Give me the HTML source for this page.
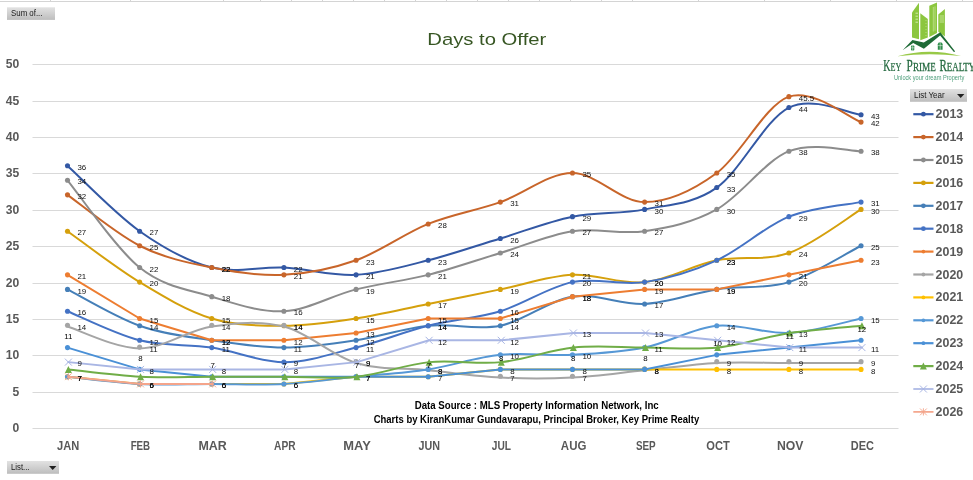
<!DOCTYPE html>
<html><head><meta charset="utf-8"><title>Days to Offer</title>
<style>
html,body{margin:0;padding:0;background:#fff;}
body{width:973px;height:480px;overflow:hidden;font-family:"Liberation Sans",sans-serif;}
svg{display:block;will-change:transform;}
svg text{font-family:"Liberation Sans",sans-serif;}
.ax{font-weight:bold;fill:#595959;font-size:12px;}
.dl{font-size:7.9px;fill:#111;}
.src{font-weight:bold;fill:#000;font-size:10.4px;}
.btn{font-size:8.6px;fill:#1a1a1a;}
</style></head><body>
<svg width="973" height="480" viewBox="0 0 973 480">
<defs>
<linearGradient id="bg" x1="0" y1="0" x2="0" y2="1"><stop offset="0" stop-color="#e2e2e2"/><stop offset="1" stop-color="#bdbdbd"/></linearGradient>
</defs>
<rect width="973" height="480" fill="#ffffff"/>

<path d="M0,1.5 H973" stroke="#d4d4d4" stroke-width="1" fill="none"/>
<path d="M50.5,0 V1.5 M130.5,0 V1.5 M223.5,0 V1.5 M260.5,0 V1.5 M291.5,0 V1.5 M322.5,0 V1.5 M353.5,0 V1.5 M384.5,0 V1.5 M415.5,0 V1.5 M446.5,0 V1.5 M477.5,0 V1.5 M508.5,0 V1.5 M539.5,0 V1.5 M570.5,0 V1.5 M601.5,0 V1.5 M632.5,0 V1.5 M698.5,0 V1.5 M764.5,0 V1.5 M830.5,0 V1.5 M896.5,0 V1.5 M962.5,0 V1.5" stroke="#d4d4d4" stroke-width="1" fill="none"/>
<path d="M32.5,428.50 H898.5" stroke="#d9d9d9" stroke-width="1" fill="none"/>
<path d="M32.5,392.50 H898.5" stroke="#d9d9d9" stroke-width="1" fill="none"/>
<path d="M32.5,355.50 H898.5" stroke="#d9d9d9" stroke-width="1" fill="none"/>
<path d="M32.5,319.50 H898.5" stroke="#d9d9d9" stroke-width="1" fill="none"/>
<path d="M32.5,283.50 H898.5" stroke="#d9d9d9" stroke-width="1" fill="none"/>
<path d="M32.5,246.50 H898.5" stroke="#d9d9d9" stroke-width="1" fill="none"/>
<path d="M32.5,210.50 H898.5" stroke="#d9d9d9" stroke-width="1" fill="none"/>
<path d="M32.5,173.50 H898.5" stroke="#d9d9d9" stroke-width="1" fill="none"/>
<path d="M32.5,137.50 H898.5" stroke="#d9d9d9" stroke-width="1" fill="none"/>
<path d="M32.5,101.50 H898.5" stroke="#d9d9d9" stroke-width="1" fill="none"/>
<path d="M32.5,64.50 H898.5" stroke="#d9d9d9" stroke-width="1" fill="none"/>
<text class="ax" x="19.20" y="432.40" text-anchor="end" textLength="6.75" lengthAdjust="spacingAndGlyphs">0</text>
<text class="ax" x="19.20" y="396.40" text-anchor="end" textLength="6.75" lengthAdjust="spacingAndGlyphs">5</text>
<text class="ax" x="19.20" y="359.40" text-anchor="end" textLength="13.50" lengthAdjust="spacingAndGlyphs">10</text>
<text class="ax" x="19.20" y="323.40" text-anchor="end" textLength="13.50" lengthAdjust="spacingAndGlyphs">15</text>
<text class="ax" x="19.20" y="287.40" text-anchor="end" textLength="13.50" lengthAdjust="spacingAndGlyphs">20</text>
<text class="ax" x="19.20" y="250.40" text-anchor="end" textLength="13.50" lengthAdjust="spacingAndGlyphs">25</text>
<text class="ax" x="19.20" y="214.40" text-anchor="end" textLength="13.50" lengthAdjust="spacingAndGlyphs">30</text>
<text class="ax" x="19.20" y="177.40" text-anchor="end" textLength="13.50" lengthAdjust="spacingAndGlyphs">35</text>
<text class="ax" x="19.20" y="141.40" text-anchor="end" textLength="13.50" lengthAdjust="spacingAndGlyphs">40</text>
<text class="ax" x="19.20" y="105.40" text-anchor="end" textLength="13.50" lengthAdjust="spacingAndGlyphs">45</text>
<text class="ax" x="19.20" y="68.40" text-anchor="end" textLength="13.50" lengthAdjust="spacingAndGlyphs">50</text>
<text class="ax" x="68.20" y="450" text-anchor="middle" textLength="22.20" lengthAdjust="spacingAndGlyphs">JAN</text>
<text class="ax" x="140.40" y="450" text-anchor="middle" textLength="19.50" lengthAdjust="spacingAndGlyphs">FEB</text>
<text class="ax" x="212.60" y="450" text-anchor="middle" textLength="28.40" lengthAdjust="spacingAndGlyphs">MAR</text>
<text class="ax" x="284.80" y="450" text-anchor="middle" textLength="21.50" lengthAdjust="spacingAndGlyphs">APR</text>
<text class="ax" x="357.00" y="450" text-anchor="middle" textLength="27.50" lengthAdjust="spacingAndGlyphs">MAY</text>
<text class="ax" x="429.20" y="450" text-anchor="middle" textLength="21.50" lengthAdjust="spacingAndGlyphs">JUN</text>
<text class="ax" x="501.40" y="450" text-anchor="middle" textLength="19.20" lengthAdjust="spacingAndGlyphs">JUL</text>
<text class="ax" x="573.60" y="450" text-anchor="middle" textLength="25.50" lengthAdjust="spacingAndGlyphs">AUG</text>
<text class="ax" x="645.80" y="450" text-anchor="middle" textLength="19.80" lengthAdjust="spacingAndGlyphs">SEP</text>
<text class="ax" x="718.00" y="450" text-anchor="middle" textLength="23.50" lengthAdjust="spacingAndGlyphs">OCT</text>
<text class="ax" x="790.20" y="450" text-anchor="middle" textLength="26.50" lengthAdjust="spacingAndGlyphs">NOV</text>
<text class="ax" x="862.40" y="450" text-anchor="middle" textLength="23.20" lengthAdjust="spacingAndGlyphs">DEC</text>
<text x="427.3" y="44.9" font-size="16.8" fill="#375623" textLength="119" lengthAdjust="spacingAndGlyphs">Days to Offer</text>
<path d="M67.50,165.74 C79.52,176.65 115.59,214.23 139.64,231.20 C163.69,248.17 187.73,261.51 211.78,267.57 C235.83,273.63 259.87,266.36 283.92,267.57 C307.97,268.78 332.01,276.06 356.06,274.85 C380.11,273.63 404.15,266.36 428.20,260.30 C452.25,254.24 476.29,245.75 500.34,238.48 C524.39,231.20 548.43,221.50 572.48,216.65 C596.53,211.80 620.57,214.23 644.62,209.38 C668.67,204.53 692.71,204.53 716.76,187.56 C740.81,170.59 764.85,119.67 788.90,107.54 C812.95,95.42 849.02,113.61 861.04,114.82" stroke="#3358A4" stroke-width="2.0" fill="none" stroke-linecap="round" stroke-linejoin="round"/>
<circle cx="67.50" cy="165.74" r="2.55" fill="#3358A4"/><circle cx="139.64" cy="231.20" r="2.55" fill="#3358A4"/><circle cx="211.78" cy="267.57" r="2.55" fill="#3358A4"/><circle cx="283.92" cy="267.57" r="2.55" fill="#3358A4"/><circle cx="356.06" cy="274.85" r="2.55" fill="#3358A4"/><circle cx="428.20" cy="260.30" r="2.55" fill="#3358A4"/><circle cx="500.34" cy="238.48" r="2.55" fill="#3358A4"/><circle cx="572.48" cy="216.65" r="2.55" fill="#3358A4"/><circle cx="644.62" cy="209.38" r="2.55" fill="#3358A4"/><circle cx="716.76" cy="187.56" r="2.55" fill="#3358A4"/><circle cx="788.90" cy="107.54" r="2.55" fill="#3358A4"/><circle cx="861.04" cy="114.82" r="2.55" fill="#3358A4"/>
<path d="M67.50,194.83 C79.52,203.32 115.59,233.63 139.64,245.75 C163.69,257.87 187.73,262.72 211.78,267.57 C235.83,272.42 259.87,276.06 283.92,274.85 C307.97,273.63 332.01,268.78 356.06,260.30 C380.11,251.81 404.15,233.63 428.20,223.93 C452.25,214.23 476.29,210.59 500.34,202.11 C524.39,193.62 548.43,173.01 572.48,173.01 C596.53,173.01 620.57,202.11 644.62,202.11 C668.67,202.11 692.71,190.59 716.76,173.01 C740.81,155.43 764.85,105.12 788.90,96.63 C812.95,88.15 849.02,117.85 861.04,122.09" stroke="#C8652A" stroke-width="2.0" fill="none" stroke-linecap="round" stroke-linejoin="round"/>
<circle cx="67.50" cy="194.83" r="2.55" fill="#C8652A"/><circle cx="139.64" cy="245.75" r="2.55" fill="#C8652A"/><circle cx="211.78" cy="267.57" r="2.55" fill="#C8652A"/><circle cx="283.92" cy="274.85" r="2.55" fill="#C8652A"/><circle cx="356.06" cy="260.30" r="2.55" fill="#C8652A"/><circle cx="428.20" cy="223.93" r="2.55" fill="#C8652A"/><circle cx="500.34" cy="202.11" r="2.55" fill="#C8652A"/><circle cx="572.48" cy="173.01" r="2.55" fill="#C8652A"/><circle cx="644.62" cy="202.11" r="2.55" fill="#C8652A"/><circle cx="716.76" cy="173.01" r="2.55" fill="#C8652A"/><circle cx="788.90" cy="96.63" r="2.55" fill="#C8652A"/><circle cx="861.04" cy="122.09" r="2.55" fill="#C8652A"/>
<path d="M67.50,180.28 C79.52,194.83 115.59,248.17 139.64,267.57 C163.69,286.97 187.73,289.39 211.78,296.67 C235.83,303.94 259.87,312.43 283.92,311.22 C307.97,310.00 332.01,295.46 356.06,289.39 C380.11,283.33 404.15,280.91 428.20,274.85 C452.25,268.78 476.29,260.30 500.34,253.02 C524.39,245.75 548.43,234.84 572.48,231.20 C596.53,227.57 620.57,234.84 644.62,231.20 C668.67,227.57 692.71,222.72 716.76,209.38 C740.81,196.04 764.85,160.89 788.90,151.19 C812.95,141.49 849.02,151.19 861.04,151.19" stroke="#8C8C8C" stroke-width="2.0" fill="none" stroke-linecap="round" stroke-linejoin="round"/>
<circle cx="67.50" cy="180.28" r="2.55" fill="#8C8C8C"/><circle cx="139.64" cy="267.57" r="2.55" fill="#8C8C8C"/><circle cx="211.78" cy="296.67" r="2.55" fill="#8C8C8C"/><circle cx="283.92" cy="311.22" r="2.55" fill="#8C8C8C"/><circle cx="356.06" cy="289.39" r="2.55" fill="#8C8C8C"/><circle cx="428.20" cy="274.85" r="2.55" fill="#8C8C8C"/><circle cx="500.34" cy="253.02" r="2.55" fill="#8C8C8C"/><circle cx="572.48" cy="231.20" r="2.55" fill="#8C8C8C"/><circle cx="644.62" cy="231.20" r="2.55" fill="#8C8C8C"/><circle cx="716.76" cy="209.38" r="2.55" fill="#8C8C8C"/><circle cx="788.90" cy="151.19" r="2.55" fill="#8C8C8C"/><circle cx="861.04" cy="151.19" r="2.55" fill="#8C8C8C"/>
<path d="M67.50,231.20 C79.52,239.69 115.59,267.57 139.64,282.12 C163.69,296.67 187.73,311.22 211.78,318.49 C235.83,325.76 259.87,325.76 283.92,325.76 C307.97,325.76 332.01,322.13 356.06,318.49 C380.11,314.85 404.15,308.79 428.20,303.94 C452.25,299.09 476.29,294.24 500.34,289.39 C524.39,284.54 548.43,276.06 572.48,274.85 C596.53,273.63 620.57,284.54 644.62,282.12 C668.67,279.70 692.71,265.15 716.76,260.30 C740.81,255.45 764.85,261.51 788.90,253.02 C812.95,244.54 849.02,216.65 861.04,209.38" stroke="#D5A00C" stroke-width="2.0" fill="none" stroke-linecap="round" stroke-linejoin="round"/>
<circle cx="67.50" cy="231.20" r="2.55" fill="#D5A00C"/><circle cx="139.64" cy="282.12" r="2.55" fill="#D5A00C"/><circle cx="211.78" cy="318.49" r="2.55" fill="#D5A00C"/><circle cx="283.92" cy="325.76" r="2.55" fill="#D5A00C"/><circle cx="356.06" cy="318.49" r="2.55" fill="#D5A00C"/><circle cx="428.20" cy="303.94" r="2.55" fill="#D5A00C"/><circle cx="500.34" cy="289.39" r="2.55" fill="#D5A00C"/><circle cx="572.48" cy="274.85" r="2.55" fill="#D5A00C"/><circle cx="644.62" cy="282.12" r="2.55" fill="#D5A00C"/><circle cx="716.76" cy="260.30" r="2.55" fill="#D5A00C"/><circle cx="788.90" cy="253.02" r="2.55" fill="#D5A00C"/><circle cx="861.04" cy="209.38" r="2.55" fill="#D5A00C"/>
<path d="M67.50,289.39 C79.52,295.46 115.59,317.28 139.64,325.76 C163.69,334.25 187.73,336.68 211.78,340.31 C235.83,343.95 259.87,347.59 283.92,347.59 C307.97,347.59 332.01,343.95 356.06,340.31 C380.11,336.68 404.15,328.19 428.20,325.76 C452.25,323.34 476.29,330.61 500.34,325.76 C524.39,320.91 548.43,300.31 572.48,296.67 C596.53,293.03 620.57,305.15 644.62,303.94 C668.67,302.73 692.71,293.03 716.76,289.39 C740.81,285.76 764.85,289.39 788.90,282.12 C812.95,274.85 849.02,251.81 861.04,245.75" stroke="#457FB8" stroke-width="2.0" fill="none" stroke-linecap="round" stroke-linejoin="round"/>
<circle cx="67.50" cy="289.39" r="2.55" fill="#457FB8"/><circle cx="139.64" cy="325.76" r="2.55" fill="#457FB8"/><circle cx="211.78" cy="340.31" r="2.55" fill="#457FB8"/><circle cx="283.92" cy="347.59" r="2.55" fill="#457FB8"/><circle cx="356.06" cy="340.31" r="2.55" fill="#457FB8"/><circle cx="428.20" cy="325.76" r="2.55" fill="#457FB8"/><circle cx="500.34" cy="325.76" r="2.55" fill="#457FB8"/><circle cx="572.48" cy="296.67" r="2.55" fill="#457FB8"/><circle cx="644.62" cy="303.94" r="2.55" fill="#457FB8"/><circle cx="716.76" cy="289.39" r="2.55" fill="#457FB8"/><circle cx="788.90" cy="282.12" r="2.55" fill="#457FB8"/><circle cx="861.04" cy="245.75" r="2.55" fill="#457FB8"/>
<path d="M67.50,311.22 C79.52,316.07 115.59,334.25 139.64,340.31 C163.69,346.37 187.73,343.95 211.78,347.59 C235.83,351.22 259.87,362.13 283.92,362.13 C307.97,362.13 332.01,353.65 356.06,347.59 C380.11,341.52 404.15,331.83 428.20,325.76 C452.25,319.70 476.29,318.49 500.34,311.22 C524.39,303.94 548.43,286.97 572.48,282.12 C596.53,277.27 620.57,285.76 644.62,282.12 C668.67,278.48 692.71,271.21 716.76,260.30 C740.81,249.39 764.85,226.35 788.90,216.65 C812.95,206.96 849.02,204.53 861.04,202.11" stroke="#4472C4" stroke-width="2.0" fill="none" stroke-linecap="round" stroke-linejoin="round"/>
<circle cx="67.50" cy="311.22" r="2.55" fill="#4472C4"/><circle cx="139.64" cy="340.31" r="2.55" fill="#4472C4"/><circle cx="211.78" cy="347.59" r="2.55" fill="#4472C4"/><circle cx="283.92" cy="362.13" r="2.55" fill="#4472C4"/><circle cx="356.06" cy="347.59" r="2.55" fill="#4472C4"/><circle cx="428.20" cy="325.76" r="2.55" fill="#4472C4"/><circle cx="500.34" cy="311.22" r="2.55" fill="#4472C4"/><circle cx="572.48" cy="282.12" r="2.55" fill="#4472C4"/><circle cx="644.62" cy="282.12" r="2.55" fill="#4472C4"/><circle cx="716.76" cy="260.30" r="2.55" fill="#4472C4"/><circle cx="788.90" cy="216.65" r="2.55" fill="#4472C4"/><circle cx="861.04" cy="202.11" r="2.55" fill="#4472C4"/>
<path d="M67.50,274.85 L139.64,318.49 L211.78,340.31 L283.92,340.31 L356.06,333.04 L428.20,318.49 L500.34,318.49 L572.48,296.67 L644.62,289.39 L716.76,289.39 L788.90,274.85 L861.04,260.30" stroke="#ED7D31" stroke-width="2.0" fill="none" stroke-linecap="round" stroke-linejoin="round"/>
<circle cx="67.50" cy="274.85" r="2.55" fill="#ED7D31"/><circle cx="139.64" cy="318.49" r="2.55" fill="#ED7D31"/><circle cx="211.78" cy="340.31" r="2.55" fill="#ED7D31"/><circle cx="283.92" cy="340.31" r="2.55" fill="#ED7D31"/><circle cx="356.06" cy="333.04" r="2.55" fill="#ED7D31"/><circle cx="428.20" cy="318.49" r="2.55" fill="#ED7D31"/><circle cx="500.34" cy="318.49" r="2.55" fill="#ED7D31"/><circle cx="572.48" cy="296.67" r="2.55" fill="#ED7D31"/><circle cx="644.62" cy="289.39" r="2.55" fill="#ED7D31"/><circle cx="716.76" cy="289.39" r="2.55" fill="#ED7D31"/><circle cx="788.90" cy="274.85" r="2.55" fill="#ED7D31"/><circle cx="861.04" cy="260.30" r="2.55" fill="#ED7D31"/>
<path d="M67.50,326.56 C79.52,330.20 115.59,348.39 139.64,348.39 C163.69,348.39 187.73,330.20 211.78,326.56 C235.83,322.93 259.87,320.50 283.92,326.56 C307.97,332.63 332.01,355.66 356.06,362.93 C380.11,370.21 404.15,367.78 428.20,370.21 C452.25,372.63 476.29,376.27 500.34,377.48 C524.39,378.69 548.43,378.69 572.48,377.48 C596.53,376.27 620.57,372.63 644.62,370.21 C668.67,367.78 692.71,364.15 716.76,362.93 C740.81,361.72 764.85,362.93 788.90,362.93 C812.95,362.93 849.02,362.93 861.04,362.93" stroke="#A5A5A5" stroke-width="2.0" fill="none" stroke-linecap="round" stroke-linejoin="round"/>
<circle cx="67.50" cy="325.26" r="2.55" fill="#A5A5A5"/><circle cx="139.64" cy="347.09" r="2.55" fill="#A5A5A5"/><circle cx="211.78" cy="325.26" r="2.55" fill="#A5A5A5"/><circle cx="283.92" cy="325.26" r="2.55" fill="#A5A5A5"/><circle cx="356.06" cy="361.63" r="2.55" fill="#A5A5A5"/><circle cx="428.20" cy="368.91" r="2.55" fill="#A5A5A5"/><circle cx="500.34" cy="376.18" r="2.55" fill="#A5A5A5"/><circle cx="572.48" cy="376.18" r="2.55" fill="#A5A5A5"/><circle cx="644.62" cy="368.91" r="2.55" fill="#A5A5A5"/><circle cx="716.76" cy="361.63" r="2.55" fill="#A5A5A5"/><circle cx="788.90" cy="361.63" r="2.55" fill="#A5A5A5"/><circle cx="861.04" cy="361.63" r="2.55" fill="#A5A5A5"/>
<path d="M67.50,376.68 L139.64,383.96 L211.78,383.96 L283.92,383.96 L356.06,376.68 L428.20,376.68 L500.34,369.41 L572.48,369.41 L644.62,369.41 L716.76,369.41 L788.90,369.41 L861.04,369.41" stroke="#FFC000" stroke-width="2.0" fill="none" stroke-linecap="round" stroke-linejoin="round"/>
<circle cx="67.50" cy="376.68" r="2.55" fill="#FFC000"/><circle cx="139.64" cy="383.96" r="2.55" fill="#FFC000"/><circle cx="211.78" cy="383.96" r="2.55" fill="#FFC000"/><circle cx="283.92" cy="383.96" r="2.55" fill="#FFC000"/><circle cx="356.06" cy="376.68" r="2.55" fill="#FFC000"/><circle cx="428.20" cy="376.68" r="2.55" fill="#FFC000"/><circle cx="500.34" cy="369.41" r="2.55" fill="#FFC000"/><circle cx="572.48" cy="369.41" r="2.55" fill="#FFC000"/><circle cx="644.62" cy="369.41" r="2.55" fill="#FFC000"/><circle cx="716.76" cy="369.41" r="2.55" fill="#FFC000"/><circle cx="788.90" cy="369.41" r="2.55" fill="#FFC000"/><circle cx="861.04" cy="369.41" r="2.55" fill="#FFC000"/>
<path d="M67.50,376.68 C79.52,377.89 115.59,382.74 139.64,383.96 C163.69,385.17 187.73,383.96 211.78,383.96 C235.83,383.96 259.87,385.17 283.92,383.96 C307.97,382.74 332.01,379.11 356.06,376.68 C380.11,374.26 404.15,373.05 428.20,369.41 C452.25,365.77 476.29,357.28 500.34,354.86 C524.39,352.44 548.43,356.07 572.48,354.86 C596.53,353.65 620.57,352.44 644.62,347.59 C668.67,342.74 692.71,328.19 716.76,325.76 C740.81,323.34 764.85,334.25 788.90,333.04 C812.95,331.83 849.02,320.91 861.04,318.49" stroke="#5698D6" stroke-width="2.0" fill="none" stroke-linecap="round" stroke-linejoin="round"/>
<circle cx="67.50" cy="376.68" r="2.55" fill="#5698D6"/><circle cx="139.64" cy="383.96" r="2.55" fill="#5698D6"/><circle cx="211.78" cy="383.96" r="2.55" fill="#5698D6"/><circle cx="283.92" cy="383.96" r="2.55" fill="#5698D6"/><circle cx="356.06" cy="376.68" r="2.55" fill="#5698D6"/><circle cx="428.20" cy="369.41" r="2.55" fill="#5698D6"/><circle cx="500.34" cy="354.86" r="2.55" fill="#5698D6"/><circle cx="572.48" cy="354.86" r="2.55" fill="#5698D6"/><circle cx="644.62" cy="347.59" r="2.55" fill="#5698D6"/><circle cx="716.76" cy="325.76" r="2.55" fill="#5698D6"/><circle cx="788.90" cy="333.04" r="2.55" fill="#5698D6"/><circle cx="861.04" cy="318.49" r="2.55" fill="#5698D6"/>
<path d="M67.50,347.59 L139.64,369.41 L211.78,376.68 L283.92,376.68 L356.06,376.68 L428.20,376.68 L500.34,369.41 L572.48,369.41 L644.62,369.41 L716.76,354.86 L788.90,347.59 L861.04,340.31" stroke="#4A90D6" stroke-width="2.0" fill="none" stroke-linecap="round" stroke-linejoin="round"/>
<circle cx="67.50" cy="347.59" r="2.55" fill="#4A90D6"/><circle cx="139.64" cy="369.41" r="2.55" fill="#4A90D6"/><circle cx="211.78" cy="376.68" r="2.55" fill="#4A90D6"/><circle cx="283.92" cy="376.68" r="2.55" fill="#4A90D6"/><circle cx="356.06" cy="376.68" r="2.55" fill="#4A90D6"/><circle cx="428.20" cy="376.68" r="2.55" fill="#4A90D6"/><circle cx="500.34" cy="369.41" r="2.55" fill="#4A90D6"/><circle cx="572.48" cy="369.41" r="2.55" fill="#4A90D6"/><circle cx="644.62" cy="369.41" r="2.55" fill="#4A90D6"/><circle cx="716.76" cy="354.86" r="2.55" fill="#4A90D6"/><circle cx="788.90" cy="347.59" r="2.55" fill="#4A90D6"/><circle cx="861.04" cy="340.31" r="2.55" fill="#4A90D6"/>
<path d="M68.40,369.41 C80.42,370.62 116.49,375.47 140.54,376.68 C164.59,377.89 188.63,376.68 212.68,376.68 C236.73,376.68 260.77,376.68 284.82,376.68 C308.87,376.68 332.91,379.11 356.96,376.68 C381.01,374.26 405.05,364.56 429.10,362.13 C453.15,359.71 477.19,364.56 501.24,362.13 C525.29,359.71 549.33,350.01 573.38,347.59 C597.43,345.16 621.47,347.59 645.52,347.59 C669.57,347.59 693.61,350.01 717.66,347.59 C741.71,345.16 765.75,336.68 789.80,333.04 C813.85,329.40 849.92,326.98 861.94,325.76" stroke="#70AD47" stroke-width="2.0" fill="none" stroke-linecap="round" stroke-linejoin="round"/>
<path d="M68.40,365.91 L71.90,372.91 L64.90,372.91 Z" fill="#70AD47"/><path d="M140.54,373.18 L144.04,380.18 L137.04,380.18 Z" fill="#70AD47"/><path d="M212.68,373.18 L216.18,380.18 L209.18,380.18 Z" fill="#70AD47"/><path d="M284.82,373.18 L288.32,380.18 L281.32,380.18 Z" fill="#70AD47"/><path d="M356.96,373.18 L360.46,380.18 L353.46,380.18 Z" fill="#70AD47"/><path d="M429.10,358.63 L432.60,365.63 L425.60,365.63 Z" fill="#70AD47"/><path d="M501.24,358.63 L504.74,365.63 L497.74,365.63 Z" fill="#70AD47"/><path d="M573.38,344.09 L576.88,351.09 L569.88,351.09 Z" fill="#70AD47"/><path d="M645.52,344.09 L649.02,351.09 L642.02,351.09 Z" fill="#70AD47"/><path d="M717.66,344.09 L721.16,351.09 L714.16,351.09 Z" fill="#70AD47"/><path d="M789.80,329.54 L793.30,336.54 L786.30,336.54 Z" fill="#70AD47"/><path d="M861.94,322.26 L865.44,329.26 L858.44,329.26 Z" fill="#70AD47"/>
<path d="M68.40,362.13 L140.54,369.41 L212.68,369.41 L284.82,369.41 L356.96,362.13 L429.10,340.31 L501.24,340.31 L573.38,333.04 L645.52,333.04 L717.66,340.31 L789.80,347.59 L861.94,347.59" stroke="#A9B6E4" stroke-width="2.0" fill="none" stroke-linecap="round" stroke-linejoin="round"/>
<path d="M64.90,358.63 L71.90,365.63 M64.90,365.63 L71.90,358.63" stroke="#A9B6E4" stroke-width="1.0" fill="none"/><path d="M137.04,365.91 L144.04,372.91 M137.04,372.91 L144.04,365.91" stroke="#A9B6E4" stroke-width="1.0" fill="none"/><path d="M209.18,365.91 L216.18,372.91 M209.18,372.91 L216.18,365.91" stroke="#A9B6E4" stroke-width="1.0" fill="none"/><path d="M281.32,365.91 L288.32,372.91 M281.32,372.91 L288.32,365.91" stroke="#A9B6E4" stroke-width="1.0" fill="none"/><path d="M353.46,358.63 L360.46,365.63 M353.46,365.63 L360.46,358.63" stroke="#A9B6E4" stroke-width="1.0" fill="none"/><path d="M425.60,336.81 L432.60,343.81 M425.60,343.81 L432.60,336.81" stroke="#A9B6E4" stroke-width="1.0" fill="none"/><path d="M497.74,336.81 L504.74,343.81 M497.74,343.81 L504.74,336.81" stroke="#A9B6E4" stroke-width="1.0" fill="none"/><path d="M569.88,329.54 L576.88,336.54 M569.88,336.54 L576.88,329.54" stroke="#A9B6E4" stroke-width="1.0" fill="none"/><path d="M642.02,329.54 L649.02,336.54 M642.02,336.54 L649.02,329.54" stroke="#A9B6E4" stroke-width="1.0" fill="none"/><path d="M714.16,336.81 L721.16,343.81 M714.16,343.81 L721.16,336.81" stroke="#A9B6E4" stroke-width="1.0" fill="none"/><path d="M786.30,344.09 L793.30,351.09 M786.30,351.09 L793.30,344.09" stroke="#A9B6E4" stroke-width="1.0" fill="none"/><path d="M858.44,344.09 L865.44,351.09 M858.44,351.09 L865.44,344.09" stroke="#A9B6E4" stroke-width="1.0" fill="none"/>
<path d="M68.40,376.68 L140.54,383.96 L212.68,383.96" stroke="#F4A48A" stroke-width="2.0" fill="none" stroke-linecap="round" stroke-linejoin="round"/>
<path d="M65.00,373.28 L71.80,380.08 M65.00,380.08 L71.80,373.28 M68.40,373.08 L68.40,380.28" stroke="#F4A48A" stroke-width="0.9" fill="none"/><path d="M137.14,380.56 L143.94,387.36 M137.14,387.36 L143.94,380.56 M140.54,380.36 L140.54,387.56" stroke="#F4A48A" stroke-width="0.9" fill="none"/><path d="M209.28,380.56 L216.08,387.36 M209.28,387.36 L216.08,380.56 M212.68,380.36 L212.68,387.56" stroke="#F4A48A" stroke-width="0.9" fill="none"/>
<text class="dl" x="77.40" y="169.94">36</text>
<text class="dl" x="149.54" y="235.40">27</text>
<text class="dl" x="221.68" y="271.77">22</text>
<text class="dl" x="293.82" y="271.77">22</text>
<text class="dl" x="365.96" y="279.05">21</text>
<text class="dl" x="438.10" y="264.50">23</text>
<text class="dl" x="510.24" y="242.68">26</text>
<text class="dl" x="582.38" y="220.85">29</text>
<text class="dl" x="654.52" y="213.58">30</text>
<text class="dl" x="726.66" y="191.76">33</text>
<text class="dl" x="798.80" y="111.74">44</text>
<text class="dl" x="870.94" y="119.02">43</text>
<text class="dl" x="77.40" y="199.03">32</text>
<text class="dl" x="149.54" y="249.95">25</text>
<text class="dl" x="221.68" y="271.77">22</text>
<text class="dl" x="293.82" y="279.05">21</text>
<text class="dl" x="365.96" y="264.50">23</text>
<text class="dl" x="438.10" y="228.13">28</text>
<text class="dl" x="510.24" y="206.31">31</text>
<text class="dl" x="582.38" y="177.21">35</text>
<text class="dl" x="654.52" y="206.31">31</text>
<text class="dl" x="726.66" y="177.21">35</text>
<text class="dl" x="798.80" y="100.83">45.5</text>
<text class="dl" x="870.94" y="126.29">42</text>
<text class="dl" x="77.40" y="184.48">34</text>
<text class="dl" x="149.54" y="271.77">22</text>
<text class="dl" x="221.68" y="300.87">18</text>
<text class="dl" x="293.82" y="315.42">16</text>
<text class="dl" x="365.96" y="293.59">19</text>
<text class="dl" x="438.10" y="279.05">21</text>
<text class="dl" x="510.24" y="257.22">24</text>
<text class="dl" x="582.38" y="235.40">27</text>
<text class="dl" x="654.52" y="235.40">27</text>
<text class="dl" x="726.66" y="213.58">30</text>
<text class="dl" x="798.80" y="155.39">38</text>
<text class="dl" x="870.94" y="155.39">38</text>
<text class="dl" x="77.40" y="235.40">27</text>
<text class="dl" x="149.54" y="286.32">20</text>
<text class="dl" x="221.68" y="322.69">15</text>
<text class="dl" x="293.82" y="329.96">14</text>
<text class="dl" x="365.96" y="322.69">15</text>
<text class="dl" x="438.10" y="308.14">17</text>
<text class="dl" x="510.24" y="293.59">19</text>
<text class="dl" x="582.38" y="279.05">21</text>
<text class="dl" x="654.52" y="286.32">20</text>
<text class="dl" x="726.66" y="264.50">23</text>
<text class="dl" x="798.80" y="257.22">24</text>
<text class="dl" x="870.94" y="213.58">30</text>
<text class="dl" x="77.40" y="293.59">19</text>
<text class="dl" x="149.54" y="329.96">14</text>
<text class="dl" x="221.68" y="344.51">12</text>
<text class="dl" x="293.82" y="351.79">11</text>
<text class="dl" x="365.96" y="344.51">12</text>
<text class="dl" x="438.10" y="329.96">14</text>
<text class="dl" x="510.24" y="329.96">14</text>
<text class="dl" x="582.38" y="300.87">18</text>
<text class="dl" x="654.52" y="308.14">17</text>
<text class="dl" x="726.66" y="293.59">19</text>
<text class="dl" x="798.80" y="286.32">20</text>
<text class="dl" x="870.94" y="249.95">25</text>
<text class="dl" x="77.40" y="315.42">16</text>
<text class="dl" x="149.54" y="344.51">12</text>
<text class="dl" x="221.68" y="351.79">11</text>
<text class="dl" x="293.82" y="366.33">9</text>
<text class="dl" x="365.96" y="351.79">11</text>
<text class="dl" x="438.10" y="329.96">14</text>
<text class="dl" x="510.24" y="315.42">16</text>
<text class="dl" x="582.38" y="286.32">20</text>
<text class="dl" x="654.52" y="286.32">20</text>
<text class="dl" x="726.66" y="264.50">23</text>
<text class="dl" x="798.80" y="220.85">29</text>
<text class="dl" x="870.94" y="206.31">31</text>
<text class="dl" x="77.40" y="279.05">21</text>
<text class="dl" x="149.54" y="322.69">15</text>
<text class="dl" x="221.68" y="344.51">12</text>
<text class="dl" x="293.82" y="344.51">12</text>
<text class="dl" x="365.96" y="337.24">13</text>
<text class="dl" x="438.10" y="322.69">15</text>
<text class="dl" x="510.24" y="322.69">15</text>
<text class="dl" x="582.38" y="300.87">18</text>
<text class="dl" x="654.52" y="293.59">19</text>
<text class="dl" x="726.66" y="293.59">19</text>
<text class="dl" x="798.80" y="279.05">21</text>
<text class="dl" x="870.94" y="264.50">23</text>
<text class="dl" x="77.40" y="329.96">14</text>
<text class="dl" x="149.54" y="351.79">11</text>
<text class="dl" x="221.68" y="329.96">14</text>
<text class="dl" x="293.82" y="329.96">14</text>
<text class="dl" x="365.96" y="366.33">9</text>
<text class="dl" x="438.10" y="373.61">8</text>
<text class="dl" x="510.24" y="380.88">7</text>
<text class="dl" x="582.38" y="380.88">7</text>
<text class="dl" x="654.52" y="373.61">8</text>
<text class="dl" x="726.66" y="366.33">9</text>
<text class="dl" x="798.80" y="366.33">9</text>
<text class="dl" x="870.94" y="366.33">9</text>
<text class="dl" x="77.40" y="380.88">7</text>
<text class="dl" x="149.54" y="388.16">6</text>
<text class="dl" x="221.68" y="388.16">6</text>
<text class="dl" x="293.82" y="388.16">6</text>
<text class="dl" x="365.96" y="380.88">7</text>
<text class="dl" x="438.10" y="380.88">7</text>
<text class="dl" x="510.24" y="373.61">8</text>
<text class="dl" x="582.38" y="373.61">8</text>
<text class="dl" x="654.52" y="373.61">8</text>
<text class="dl" x="726.66" y="373.61">8</text>
<text class="dl" x="798.80" y="373.61">8</text>
<text class="dl" x="870.94" y="373.61">8</text>
<text class="dl" x="77.40" y="380.88">7</text>
<text class="dl" x="149.54" y="388.16">6</text>
<text class="dl" x="221.68" y="388.16">6</text>
<text class="dl" x="293.82" y="388.16">6</text>
<text class="dl" x="365.96" y="380.88">7</text>
<text class="dl" x="438.10" y="373.61">8</text>
<text class="dl" x="510.24" y="359.06">10</text>
<text class="dl" x="582.38" y="359.06">10</text>
<text class="dl" x="654.52" y="351.79">11</text>
<text class="dl" x="726.66" y="329.96">14</text>
<text class="dl" x="798.80" y="337.24">13</text>
<text class="dl" x="870.94" y="322.69">15</text>
<text class="dl" x="68.30" y="338.99" text-anchor="middle" style="fill:#000">11</text>
<text class="dl" x="140.44" y="360.81" text-anchor="middle" style="fill:#000">8</text>
<text class="dl" x="212.58" y="368.08" text-anchor="middle" style="fill:#000">7</text>
<text class="dl" x="284.72" y="368.08" text-anchor="middle" style="fill:#000">7</text>
<text class="dl" x="356.86" y="368.08" text-anchor="middle" style="fill:#000">7</text>
<text class="dl" x="429.00" y="368.08" text-anchor="middle" style="fill:#000">7</text>
<text class="dl" x="501.14" y="360.81" text-anchor="middle" style="fill:#000">8</text>
<text class="dl" x="573.28" y="360.81" text-anchor="middle" style="fill:#000">8</text>
<text class="dl" x="645.42" y="360.81" text-anchor="middle" style="fill:#000">8</text>
<text class="dl" x="717.56" y="346.26" text-anchor="middle" style="fill:#000">10</text>
<text class="dl" x="789.70" y="338.99" text-anchor="middle" style="fill:#000">11</text>
<text class="dl" x="861.84" y="331.71" text-anchor="middle" style="fill:#000">12</text>
<text class="dl" x="77.40" y="366.33">9</text>
<text class="dl" x="149.54" y="373.61">8</text>
<text class="dl" x="221.68" y="373.61">8</text>
<text class="dl" x="293.82" y="373.61">8</text>
<text class="dl" x="365.96" y="366.33">9</text>
<text class="dl" x="438.10" y="344.51">12</text>
<text class="dl" x="510.24" y="344.51">12</text>
<text class="dl" x="582.38" y="337.24">13</text>
<text class="dl" x="654.52" y="337.24">13</text>
<text class="dl" x="726.66" y="344.51">12</text>
<text class="dl" x="798.80" y="351.79">11</text>
<text class="dl" x="870.94" y="351.79">11</text>
<text class="dl" x="77.40" y="380.88">7</text>
<text class="dl" x="149.54" y="388.16">6</text>
<text class="dl" x="221.68" y="388.16">6</text>
<text class="src" x="414.7" y="408.9" textLength="244" lengthAdjust="spacingAndGlyphs">Data Source : MLS Property Information Network, Inc</text>
<text class="src" x="373.7" y="422.6" textLength="325.5" lengthAdjust="spacingAndGlyphs">Charts by KiranKumar Gundavarapu, Principal Broker, Key Prime Realty</text>
<path d="M913.3,114.20 H933.5" stroke="#3358A4" stroke-width="2.2" fill="none"/>
<circle cx="923.40" cy="114.20" r="2.4" fill="#3358A4"/>
<text x="935.6" y="118.20" font-size="12" font-weight="bold" fill="#595959" textLength="27.6" lengthAdjust="spacingAndGlyphs">2013</text>
<path d="M913.3,137.10 H933.5" stroke="#C8652A" stroke-width="2.2" fill="none"/>
<circle cx="923.40" cy="137.10" r="2.4" fill="#C8652A"/>
<text x="935.6" y="141.10" font-size="12" font-weight="bold" fill="#595959" textLength="27.6" lengthAdjust="spacingAndGlyphs">2014</text>
<path d="M913.3,160.00 H933.5" stroke="#8C8C8C" stroke-width="2.2" fill="none"/>
<circle cx="923.40" cy="160.00" r="2.4" fill="#8C8C8C"/>
<text x="935.6" y="164.00" font-size="12" font-weight="bold" fill="#595959" textLength="27.6" lengthAdjust="spacingAndGlyphs">2015</text>
<path d="M913.3,182.90 H933.5" stroke="#D5A00C" stroke-width="2.2" fill="none"/>
<circle cx="923.40" cy="182.90" r="2.4" fill="#D5A00C"/>
<text x="935.6" y="186.90" font-size="12" font-weight="bold" fill="#595959" textLength="27.6" lengthAdjust="spacingAndGlyphs">2016</text>
<path d="M913.3,205.80 H933.5" stroke="#457FB8" stroke-width="2.2" fill="none"/>
<circle cx="923.40" cy="205.80" r="2.4" fill="#457FB8"/>
<text x="935.6" y="209.80" font-size="12" font-weight="bold" fill="#595959" textLength="27.6" lengthAdjust="spacingAndGlyphs">2017</text>
<path d="M913.3,228.70 H933.5" stroke="#4472C4" stroke-width="2.2" fill="none"/>
<circle cx="923.40" cy="228.70" r="2.4" fill="#4472C4"/>
<text x="935.6" y="232.70" font-size="12" font-weight="bold" fill="#595959" textLength="27.6" lengthAdjust="spacingAndGlyphs">2018</text>
<path d="M913.3,251.60 H933.5" stroke="#ED7D31" stroke-width="2.2" fill="none"/>
<circle cx="923.40" cy="251.60" r="1.9" fill="#ED7D31"/>
<text x="935.6" y="255.60" font-size="12" font-weight="bold" fill="#595959" textLength="27.6" lengthAdjust="spacingAndGlyphs">2019</text>
<path d="M913.3,274.50 H933.5" stroke="#A5A5A5" stroke-width="2.2" fill="none"/>
<circle cx="923.40" cy="274.50" r="1.9" fill="#A5A5A5"/>
<text x="935.6" y="278.50" font-size="12" font-weight="bold" fill="#595959" textLength="27.6" lengthAdjust="spacingAndGlyphs">2020</text>
<path d="M913.3,297.40 H933.5" stroke="#FFC000" stroke-width="2.2" fill="none"/>
<circle cx="923.40" cy="297.40" r="1.9" fill="#FFC000"/>
<text x="935.6" y="301.40" font-size="12" font-weight="bold" fill="#595959" textLength="27.6" lengthAdjust="spacingAndGlyphs">2021</text>
<path d="M913.3,320.30 H933.5" stroke="#5698D6" stroke-width="2.2" fill="none"/>
<circle cx="923.40" cy="320.30" r="1.9" fill="#5698D6"/>
<text x="935.6" y="324.30" font-size="12" font-weight="bold" fill="#595959" textLength="27.6" lengthAdjust="spacingAndGlyphs">2022</text>
<path d="M913.3,343.20 H933.5" stroke="#4A90D6" stroke-width="2.2" fill="none"/>
<circle cx="923.40" cy="343.20" r="1.9" fill="#4A90D6"/>
<text x="935.6" y="347.20" font-size="12" font-weight="bold" fill="#595959" textLength="27.6" lengthAdjust="spacingAndGlyphs">2023</text>
<path d="M913.3,366.10 H933.5" stroke="#70AD47" stroke-width="2.2" fill="none"/>
<path d="M923.40,362.60 L926.90,369.60 L919.90,369.60 Z" fill="#70AD47"/>
<text x="935.6" y="370.10" font-size="12" font-weight="bold" fill="#595959" textLength="27.6" lengthAdjust="spacingAndGlyphs">2024</text>
<path d="M913.3,389.00 H933.5" stroke="#A9B6E4" stroke-width="1.7" fill="none"/>
<path d="M919.90,385.50 L926.90,392.50 M919.90,392.50 L926.90,385.50" stroke="#A9B6E4" stroke-width="1.0" fill="none"/>
<text x="935.6" y="393.00" font-size="12" font-weight="bold" fill="#595959" textLength="27.6" lengthAdjust="spacingAndGlyphs">2025</text>
<path d="M913.3,411.90 H933.5" stroke="#F4A48A" stroke-width="1.7" fill="none"/>
<path d="M920.00,408.50 L926.80,415.30 M920.00,415.30 L926.80,408.50 M923.40,408.30 L923.40,415.50" stroke="#F4A48A" stroke-width="0.9" fill="none"/>
<text x="935.6" y="415.90" font-size="12" font-weight="bold" fill="#595959" textLength="27.6" lengthAdjust="spacingAndGlyphs">2026</text>
<rect x="7" y="7.3" width="48" height="12.6" fill="url(#bg)"/>
<text class="btn" x="11" y="16.3" textLength="31.5" lengthAdjust="spacingAndGlyphs">Sum of...</text>
<rect x="7" y="461" width="52" height="12.8" fill="url(#bg)"/>
<text class="btn" x="11" y="470.2" textLength="18.5" lengthAdjust="spacingAndGlyphs">List...</text>
<path d="M49,466 H56.4 L52.7,470 Z" fill="#222"/>
<rect x="910" y="89" width="57" height="12.8" fill="url(#bg)"/>
<text class="btn" x="914" y="98.2" textLength="30.6" lengthAdjust="spacingAndGlyphs">List Year</text>
<path d="M957,94 H964.4 L960.7,98 Z" fill="#222"/>
<g id="logo">
<rect x="883" y="3" width="90" height="84" fill="#ffffff"/>
<!-- buildings -->
<polygon points="912,12.6 919,2.8 919,39.2 912,37.6" fill="#8CC63F"/>
<polygon points="920.3,13.2 927.8,19 927.8,37.4 920.3,40.3" fill="#8CC63F"/>
<polygon points="929.3,5.7 937,2.5 937,33 929.3,36.9" fill="#8CC63F"/>
<polygon points="938.3,14.4 944.9,9 944.9,36.4 938.3,31.8" fill="#8CC63F"/>
<!-- building window details -->
<path d="M915.5,13.2 H918 M915.5,16.2 H918 M915.5,19.2 H918 M915.5,22.2 H918" stroke="#d9efb5" stroke-width="0.9" fill="none"/>
<path d="M926,20 V37" stroke="#d9efb5" stroke-width="0.7" stroke-dasharray="0.8 2.2" fill="none"/>
<path d="M933.3,7 V31.5 M935,6.4 V30.8" stroke="#c8e79a" stroke-width="0.7" fill="none"/>
<path d="M939.6,16 H944 M939.6,18 H944 M939.6,20 H944 M939.6,22 H944" stroke="#d3ecaa" stroke-width="0.8" fill="none"/>
<!-- roof -->
<path d="M902.6,50.2 L912.4,40 L923.8,42.6 L940.3,32.3 L955.2,51.6 L953.9,51.9 L940.1,35.6 L923.9,48.8 L913.2,42.9 Z" fill="#1F6B37"/>
<!-- windows -->
<rect x="911" y="45.4" width="3.3" height="5.2" rx="0.8" fill="#2F8E4B"/>
<path d="M912.65,45.4 V50.6 M911,47.8 H914.3" stroke="#ffffff" stroke-width="0.45" fill="none"/>
<path d="M937.8,49.8 V44.2 Q937.8,42.2 940.2,42.2 Q942.6,42.2 942.6,44.2 V49.8 Z" fill="#2F8E4B"/>
<path d="M940.2,42.2 V49.8 M937.8,45.6 H942.6" stroke="#ffffff" stroke-width="0.5" fill="none"/>
<!-- swoosh -->
<path d="M897.5,56.2 Q929,47.2 961,56 Q929,52.3 897.5,56.2 Z" fill="#98C947"/>
<!-- name -->
<g transform="translate(883.3,70.8) scale(0.625,1)"><text style="font-family:'Liberation Serif',serif" fill="#23693F" stroke="#23693F" stroke-width="0.25"><tspan font-size="16">K</tspan><tspan font-size="13">EY</tspan></text></g>
<g transform="translate(906.6,70.8) scale(0.705,1)"><text style="font-family:'Liberation Serif',serif" fill="#23693F" stroke="#23693F" stroke-width="0.25"><tspan font-size="16">P</tspan><tspan font-size="13">RIME</tspan></text></g>
<g transform="translate(939.4,70.8) scale(0.69,1)"><text style="font-family:'Liberation Serif',serif" fill="#23693F" stroke="#23693F" stroke-width="0.25"><tspan font-size="16">R</tspan><tspan font-size="13">EALTY</tspan></text></g>
<text x="893.9" y="79.7" font-size="6.6" fill="#4F9F7C" textLength="70.4" lengthAdjust="spacingAndGlyphs">Unlock your dream Property</text>
</g>

</svg></body></html>
